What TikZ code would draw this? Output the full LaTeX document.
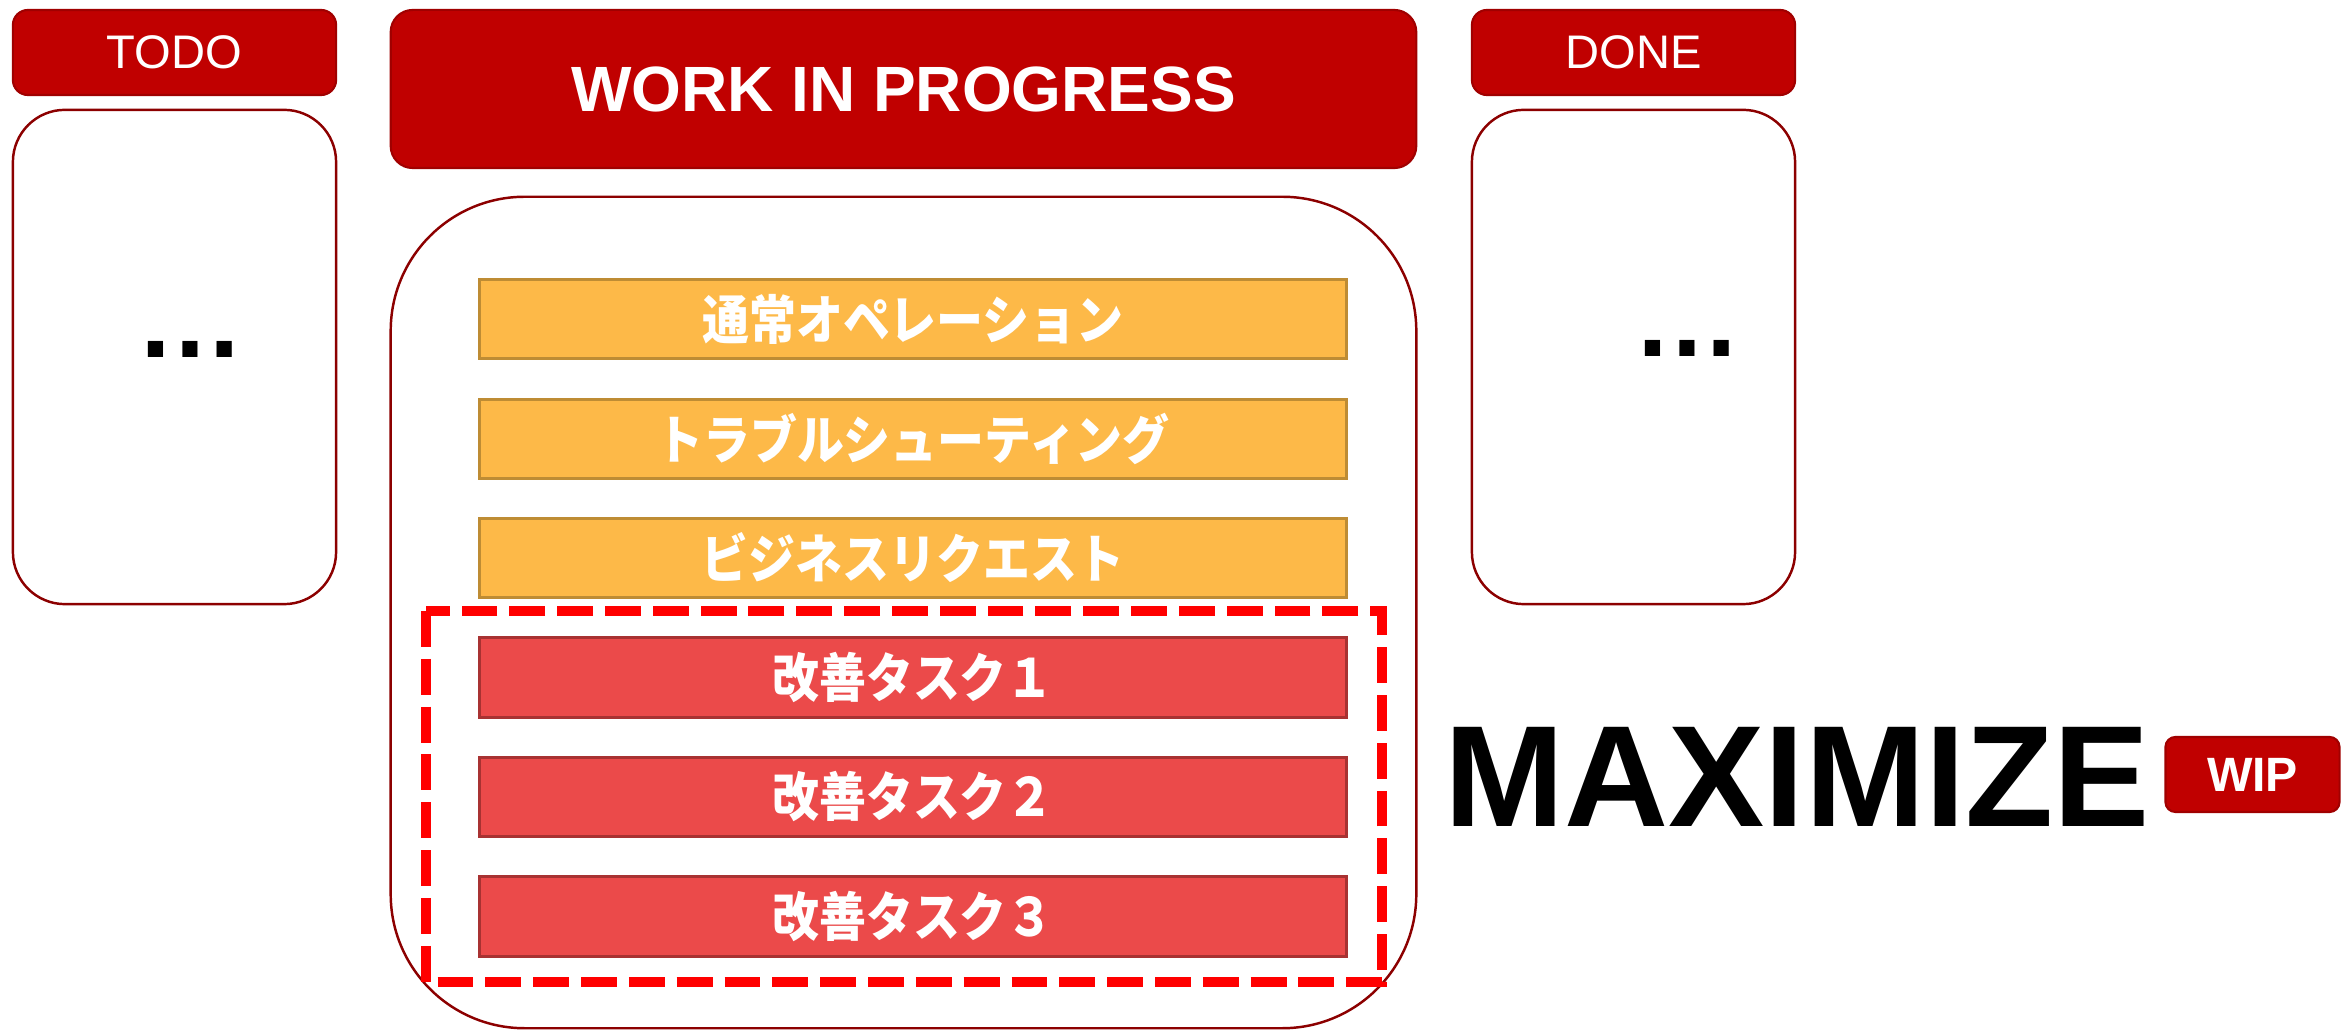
\documentclass[tikz,border=0pt]{standalone}
\usepackage{fontspec}
\setmainfont{Liberation Sans}
\newfontfamily\jp{Noto Sans CJK JP}
\definecolor{hdr}{RGB}{192,0,0}
\definecolor{hdrline}{RGB}{160,0,0}
\definecolor{bodyline}{RGB}{140,0,0}
\definecolor{orfill}{RGB}{253,185,72}
\definecolor{orline}{RGB}{190,140,52}
\definecolor{rdfill}{RGB}{235,74,74}
\definecolor{rdline}{RGB}{168,50,50}
\definecolor{dashred}{RGB}{255,0,0}
\newcommand{\jpnarrow}[1]{\scalebox{0.89}[1]{#1}}
\tikzset{
  hdrbox/.style={draw=hdrline, fill=hdr, line width=0.6pt, text=white, inner sep=0pt},
  colbox/.style={draw=bodyline, line width=0.7pt, fill=white, inner sep=0pt},
  smallhdr/.style={hdrbox, rounded corners=0.15cm, minimum width=3.23cm, minimum height=0.85cm,
    font=\fontsize{13.4pt}{16pt}\selectfont},
  sidecol/.style={colbox, rounded corners=0.52cm, minimum width=3.23cm, minimum height=4.94cm},
  dotstext/.style={anchor=base, inner sep=0pt, font=\bfseries\fontsize{30.7pt}{32pt}\selectfont},
  taskbar/.style={inner sep=0pt, line width=0.85pt, minimum width=8.67cm, minimum height=0.79cm,
    text=white, font=\jp\bfseries\fontsize{15pt}{18pt}\selectfont},
  opbar/.style={taskbar, draw=orline, fill=orfill},
  kaizenbar/.style={taskbar, draw=rdline, fill=rdfill},
  dashbox/.style={draw=dashred, line width=3.1pt, dash pattern=on 10.2pt off 3.4pt},
}
\begin{document}
\begin{tikzpicture}[x=0.01cm,y=-0.01cm]
\useasboundingbox (0,0) rectangle (2341,1031);
% TODO column
\node[smallhdr] (todoh) at (174.5,52.5) {TODO};
\node[sidecol] (todob) at (174.5,357) {};
\node[dotstext] (todod) at (190,358) {…};
% WIP column
\node[hdrbox, rounded corners=0.22cm, minimum width=10.25cm, minimum height=1.58cm,
  font=\bfseries\fontsize{18.2pt}{22pt}\selectfont] (wiph) at (903.5,89) {WORK IN PROGRESS};
\node[colbox, rounded corners=1.34cm, minimum width=10.25cm, minimum height=8.31cm] (wipb) at (903.5,612.5) {};
\node[opbar] (b1) at (913,319) {\jpnarrow{通常オペレーション}};
\node[opbar] (b2) at (913,439) {\jpnarrow{トラブルシューティング}};
\node[opbar] (b3) at (913,558) {\jpnarrow{ビジネスリクエスト}};
\node[kaizenbar] (k1) at (913,677.5) {\jpnarrow{改善タスク１}};
\node[kaizenbar] (k2) at (913,797) {\jpnarrow{改善タスク２}};
\node[kaizenbar] (k3) at (913,916.5) {\jpnarrow{改善タスク３}};
\coordinate (dtl) at (426,611);
\coordinate (dbr) at (1382,982);
\draw[dashbox] (dtl) rectangle (dbr);
% DONE column
\node[smallhdr] (doneh) at (1633.5,52.5) {DONE};
\node[sidecol] (doneb) at (1633.5,357) {};
\node[dotstext] (doned) at (1687.5,357) {…};
% MAXIMIZE WIP
\node[anchor=base, inner sep=0pt, font=\bfseries\fontsize{41pt}{44pt}\selectfont] (maxi) at (1797,827) {MAXIMIZE};
\node[hdrbox, rounded corners=0.1cm, minimum width=1.74cm, minimum height=0.75cm,
  font=\bfseries\fontsize{13.7pt}{16pt}\selectfont] (wipbadge) at (2252.5,774.5) {WIP};
\end{tikzpicture}
\end{document}
